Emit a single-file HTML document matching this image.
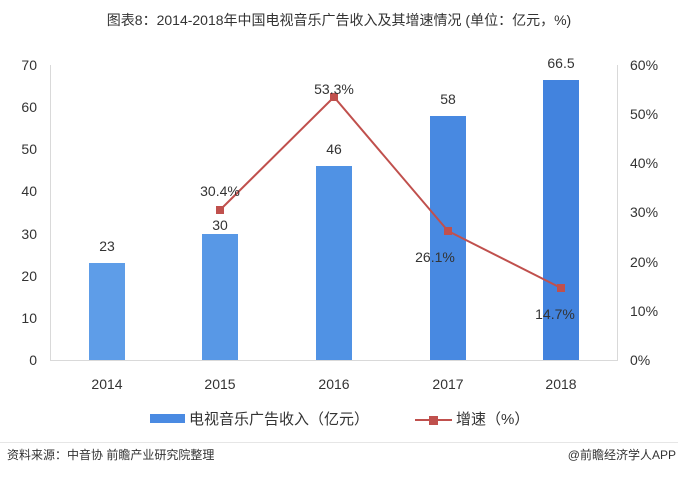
<!DOCTYPE html>
<html><head><meta charset="utf-8"><style>
body{margin:0;background:#fff;}
svg text{font-family:"Liberation Sans","Noto Sans CJK SC",sans-serif;}
</style></head><body>
<svg width="678" height="474" viewBox="0 0 678 474" xmlns="http://www.w3.org/2000/svg">
<text x="339" y="25" text-anchor="middle" font-size="14" fill="#333">图表8：2014-2018年中国电视音乐广告收入及其增速情况 (单位：亿元，%)</text>
<g stroke="#d9d9d9" stroke-width="1">
<line x1="50" y1="360.5" x2="618" y2="360.5"/>
<line x1="50.5" y1="65" x2="50.5" y2="360"/>
<line x1="617.5" y1="65" x2="617.5" y2="360"/>
</g>
<g font-size="14" fill="#333" text-anchor="end">
<text x="37" y="365">0</text><text x="37" y="323">10</text><text x="37" y="281">20</text><text x="37" y="239">30</text><text x="37" y="196">40</text><text x="37" y="154">50</text><text x="37" y="112">60</text><text x="37" y="70">70</text>
</g>
<g font-size="14" fill="#333" text-anchor="start">
<text x="630" y="365">0%</text><text x="630" y="316">10%</text><text x="630" y="267">20%</text><text x="630" y="217">30%</text><text x="630" y="168">40%</text><text x="630" y="119">50%</text><text x="630" y="70">60%</text>
</g>
<rect x="89" y="263" width="36" height="97" fill="#5e9de8"/>
<rect x="202" y="234" width="36" height="126" fill="#5898e6"/>
<rect x="316" y="166" width="36" height="194" fill="#5092e4"/>
<rect x="430" y="116" width="36" height="244" fill="#4889e1"/>
<rect x="543" y="80" width="36" height="280" fill="#4283de"/>
<g font-size="14" fill="#333" text-anchor="middle">
<text x="107" y="251">23</text><text x="220" y="230">30</text><text x="334" y="154">46</text><text x="448" y="104">58</text><text x="561" y="68">66.5</text>
</g>
<polyline points="220,210 334,97 448,231 561,288" fill="none" stroke="#c0504d" stroke-width="2"/>
<g fill="#c0504d">
<rect x="216" y="206" width="8" height="8"/><rect x="330" y="93" width="8" height="8"/><rect x="444" y="227" width="8" height="8"/><rect x="557" y="284" width="8" height="8"/>
</g>
<g font-size="14" fill="#333" text-anchor="middle">
<text x="220" y="196">30.4%</text><text x="334" y="94">53.3%</text><text x="435" y="262">26.1%</text><text x="555" y="319">14.7%</text>
</g>
<g font-size="14" fill="#333" text-anchor="middle">
<text x="107" y="389">2014</text><text x="220" y="389">2015</text><text x="334" y="389">2016</text><text x="448" y="389">2017</text><text x="561" y="389">2018</text>
</g>
<rect x="150" y="414" width="35" height="9" fill="#4a8ae2"/>
<text x="189" y="424" font-size="15" fill="#333">电视音乐广告收入（亿元）</text>
<line x1="415" y1="420" x2="452" y2="420" stroke="#c0504d" stroke-width="2"/>
<rect x="429" y="416" width="9" height="9" fill="#c0504d"/>
<text x="456" y="424" font-size="15" fill="#333">增速（%）</text>
<line x1="0" y1="442.5" x2="678" y2="442.5" stroke="#e6e6e6"/>
<text x="7" y="459" font-size="12" fill="#333">资料来源：中音协 前瞻产业研究院整理</text>
<text x="676" y="459" font-size="12" fill="#333" text-anchor="end">@前瞻经济学人APP</text>
</svg>
</body></html>
